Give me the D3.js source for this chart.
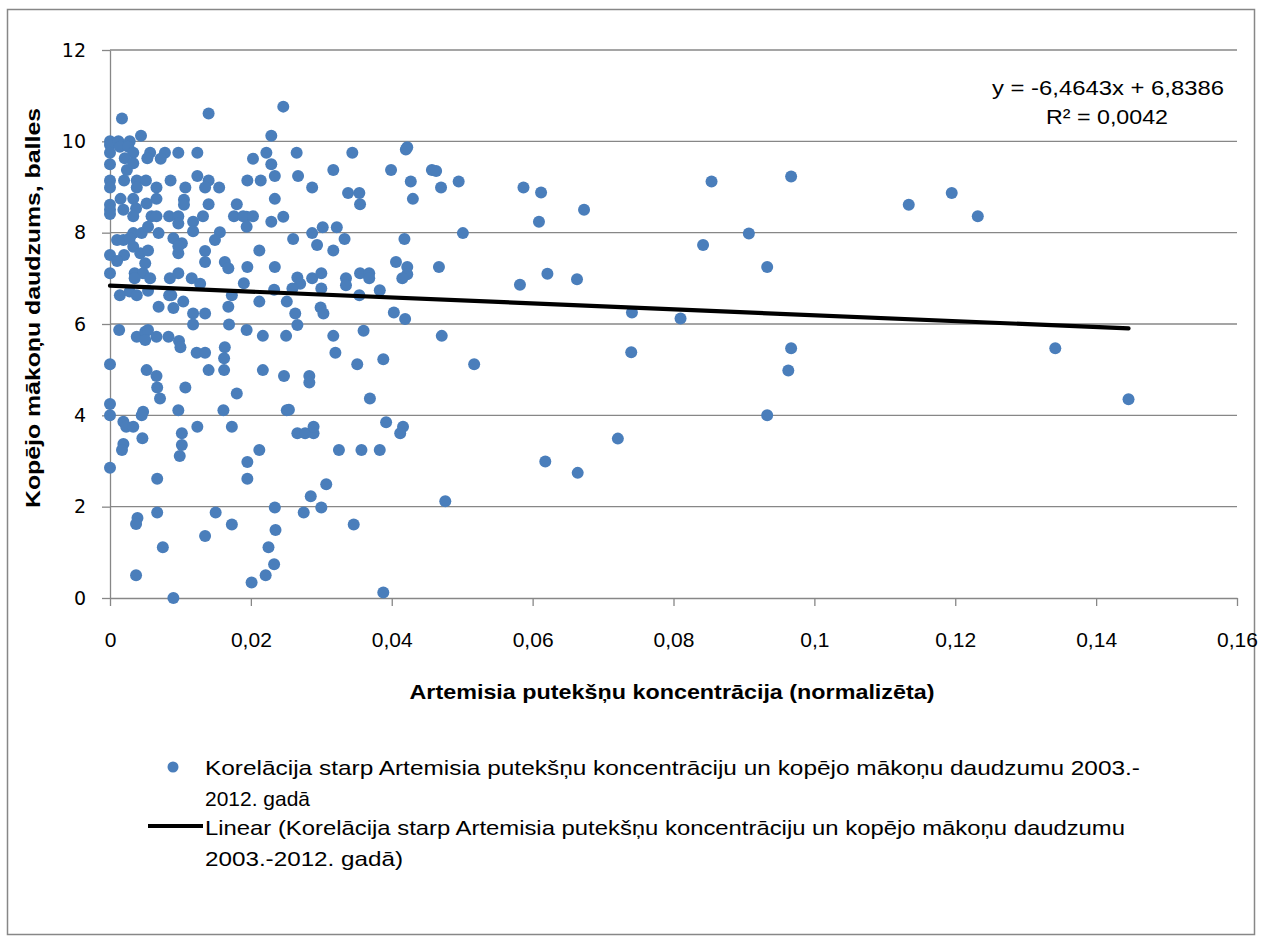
<!DOCTYPE html>
<html><head><meta charset="utf-8">
<script src="https://cdn.jsdelivr.net/npm/d3@7"></script>
<style>body{margin:0;background:#fff}svg{display:block}</style>
</head><body><svg id="c" width="1262" height="942"></svg>
<script>
// ---- data (x = normalised Artemisia pollen concentration, y = total cloud cover, balles) ----
const pollenA = [0,0,0,0,0,0,0,0,0,0,0,0,0,0,0];
const cloudA  = [10.0,9.92,9.75,9.5,9.14,8.99,8.61,8.5,8.41,7.51,7.11,5.12,4.25,4.0,2.85];

const pollenB1 = [0.0012,0.0014,0.0028,0.0026,0.0017,0.0044,0.0033,0.0057,0.0078,0.0097,
  0.0124,0.0021,0.0024,0.0033,0.0053,0.0072,0.002,0.0038,0.0051,0.0038,
  0.0066,0.0086,0.0124,0.0015,0.0033,0.0019,0.0037,0.0052,0.0066,0.0105,
  0.0105,0.0033,0.0059,0.0066,0.0084,0.0097,0.0097,0.0118,0.0033,0.0045,
  0.0054,0.0069,0.009,0.0102,0.0118,0.001,0.0019,0.0028,0.0033,0.002,
  0.0043,0.0054,0.0097,0.0097,0.005,0.001];
const cloudB1 = [10.0,9.88,10.0,9.88,10.5,10.12,9.75,9.75,9.75,9.75,
  9.75,9.63,9.37,9.52,9.63,9.62,9.14,9.14,9.14,8.99,
  8.99,9.14,9.24,8.74,8.74,8.5,8.53,8.64,8.74,8.72,
  8.61,8.36,8.36,8.36,8.36,8.36,8.2,8.24,7.99,7.99,
  8.13,7.99,7.88,7.77,8.03,7.84,7.84,7.88,7.69,7.51,
  7.55,7.61,7.55,7.7,7.33,7.38];

const pollenB2 = [0.0035,0.0047,0.0057,0.0035,0.0085,0.0097,0.0116,0.0128,0.0014,0.0028,
  0.0038,0.0054,0.0084,0.0087,0.0104,0.0069,0.009,0.0118,0.0013,0.0038,
  0.005,0.0054,0.005,0.0066,0.0083,0.0098,0.01,0.0118,0.0123,0.0052,
  0.0066,0.0067,0.0107,0.0071,0.0047,0.0045,0.0097,0.0019,0.0023,0.0033,
  0.0046,0.0102,0.0124,0.0102,0.0099,0.0019,0.0017,0.0067,0.009,0.0037,
  0.0075,0.0067,0.0039,0.0037];
const cloudB2 = [7.11,7.11,7.0,7.0,7.0,7.11,7.0,6.88,6.63,6.71,
  6.63,6.73,6.63,6.63,6.49,6.38,6.35,6.23,5.87,5.72,
  5.83,5.87,5.65,5.72,5.72,5.63,5.49,5.99,5.37,4.99,
  4.86,4.61,4.61,4.37,4.08,4.0,4.11,3.86,3.75,3.75,
  3.5,3.61,3.75,3.35,3.11,3.37,3.24,2.61,0.0,0.5,
  1.11,1.87,1.75,1.62];

const pollenC = [0.014,0.0246,0.0229,0.0222,0.0203,0.0229,0.0234,0.014,0.0135,0.0107,
  0.0155,0.0195,0.0214,0.014,0.018,0.0194,0.0234,0.0246,0.0132,0.0176,
  0.0189,0.0203,0.0229,0.0194,0.0156,0.0149,0.0135,0.0163,0.0195,0.0212,
  0.0234,0.0135,0.0168,0.019,0.0168,0.0173,0.0212,0.0233,0.0251,0.0135,
  0.0169,0.0194,0.0217,0.025,0.0135,0.0163,0.0162,0.0162,0.014,0.0217,
  0.0247,0.018,0.0161,0.0251,0.0173,0.0212,0.0195,0.0195,0.0234,0.0235,
  0.0225,0.0233,0.0221,0.0201,0.0135,0.0173,0.015];
const cloudC = [10.61,10.76,10.12,9.75,9.62,9.5,9.24,9.14,8.99,8.99,
  8.99,9.14,9.14,8.62,8.62,8.35,8.74,8.35,8.36,8.36,
  8.36,8.36,8.24,8.13,8.01,7.84,7.6,7.36,7.25,7.61,
  7.25,7.36,7.22,6.89,6.38,6.63,6.49,6.75,6.49,6.23,
  5.99,5.87,5.74,5.74,5.37,5.49,5.25,4.99,4.99,4.99,
  4.86,4.48,4.11,4.11,3.75,3.24,2.98,2.61,1.98,1.49,
  1.11,0.74,0.5,0.34,1.36,1.61,1.87];

const pollenD = [0.0265,0.0344,0.0422,0.042,0.0317,0.0267,0.0399,0.0457,0.0287,0.0427,
  0.0495,0.047,0.0338,0.0354,0.0355,0.043,0.026,0.0287,0.0302,0.0322,
  0.0294,0.0333,0.0317,0.0418,0.0501,0.0406,0.0422,0.0467,0.0422,0.0415,
  0.0266,0.0287,0.03,0.027,0.0259,0.03,0.0335,0.0335,0.0355,0.0368,
  0.0368,0.0383,0.0354,0.0299,0.0303,0.0263,0.0266,0.0403,0.0419,0.0317,
  0.036,0.0471,0.032,0.0351,0.0388,0.0517,0.0283,0.0283,0.0369,0.0254,
  0.0392,0.0416,0.0412,0.0266,0.0277,0.0289,0.0289,0.0325,0.0357,0.0383,
  0.0307,0.0285,0.0275,0.03,0.0346,0.0476,0.0388];
const cloudD = [9.75,9.75,9.87,9.82,9.37,9.24,9.37,9.37,8.99,9.12,
  9.12,8.99,8.87,8.87,8.62,8.74,7.86,7.99,8.12,8.12,
  7.73,7.86,7.61,7.86,7.99,7.36,7.25,7.25,7.09,7.0,
  7.02,7.0,7.11,6.88,6.78,6.78,7.0,6.85,7.11,7.11,
  7.0,6.74,6.63,6.36,6.23,6.23,5.98,6.25,6.11,5.74,
  5.85,5.74,5.37,5.12,5.23,5.12,4.86,4.72,4.37,4.12,
  3.85,3.75,3.61,3.61,3.61,3.61,3.75,3.24,3.24,3.24,
  2.49,2.23,1.87,1.98,1.61,2.12,0.12];

const pollenE = [0.0587,0.0612,0.0609,0.0673,0.0854,0.0907,0.0842,0.0933,0.0582,0.0621,
  0.0663,0.0741,0.081,0.074,0.0933,0.0721,0.0618,0.0664,0.0967,0.1134,
  0.1195,0.1232,0.0967,0.0963,0.1342,0.1446,0.0463];
const cloudE = [8.99,8.88,8.24,8.5,9.12,7.98,7.73,7.25,6.86,7.1,
  6.98,6.25,6.12,5.38,4.0,3.49,2.99,2.74,9.23,8.61,
  8.87,8.36,5.47,4.98,5.47,4.35,9.35];

const xTicks = [0,0.02,0.04,0.06,0.08,0.1,0.12,0.14,0.16];
const yTicks = [0,2,4,6,8,10,12];
const trendSlope = -6.4643, trendIntercept = 6.8386;
const eqText = "y = -6,4643x + 6,8386";
const r2Text = "R² = 0,0042";
const xTitle = "Artemisia putekšņu koncentrācija (normalizēta)";
const yTitle = "Kopējo mākoņu daudzums, balles";
const legendSeries = ["Korelācija starp Artemisia putekšņu koncentrāciju un kopējo mākoņu daudzumu 2003.-", "2012. gadā"];
const legendTrend = ["Linear (Korelācija starp Artemisia putekšņu koncentrāciju un kopējo mākoņu daudzumu", "2003.-2012. gadā)"];

// ---- build ----
const pollen = [].concat(pollenA, pollenB1, pollenB2, pollenC, pollenD, pollenE);
const cloud  = [].concat(cloudA, cloudB1, cloudB2, cloudC, cloudD, cloudE);
const points = pollen.map((p, i) => ({x: p, y: cloud[i]}));

const svg = d3.select("#c");
const blue = "#4A7EBB", grid = "#878787";
const x = d3.scaleLinear().domain([0, 0.16]).range([110, 1237]);
const y = d3.scaleLinear().domain([0, 12]).range([598, 50]);
const fmt = d => String(d).replace(".", ",");

svg.append("rect").attr("x", 7.5).attr("y", 9.5).attr("width", 1247).attr("height", 925)
  .attr("fill", "#fff").attr("stroke", grid).attr("stroke-width", 1.5);

// gridlines
svg.append("g").selectAll("line").data(yTicks.filter(d => d > 0)).join("line")
  .attr("x1", x(0)).attr("x2", x(0.16)).attr("y1", d => y(d)).attr("y2", d => y(d))
  .attr("stroke", grid).attr("stroke-width", 1.3);

// axes
const gx = svg.append("g").attr("transform", `translate(0,${y(0)})`)
  .call(d3.axisBottom(x).tickValues(xTicks).tickFormat(fmt).tickSize(8).tickSizeOuter(0));
const gy = svg.append("g").attr("transform", `translate(${x(0)},0)`)
  .call(d3.axisLeft(y).tickValues(yTicks).tickFormat(fmt).tickSize(8).tickSizeOuter(0).tickPadding(16));
[gx, gy].forEach(g => {
  g.select(".domain").attr("stroke", grid).attr("stroke-width", 1.3);
  g.selectAll(".tick line").attr("stroke", grid).attr("stroke-width", 1.3);
});
gx.selectAll("text").attr("y", 42).attr("dy", "0.35em")
  .attr("font-family", "Liberation Sans Narrow, Liberation Sans, sans-serif").attr("font-size", 21).attr("fill", "#000");
gy.selectAll("text").attr("font-family", "DejaVu Sans, sans-serif").attr("font-size", 19).attr("fill", "#000");

// points
svg.append("g").selectAll("circle").data(points).join("circle")
  .attr("cx", d => x(d.x)).attr("cy", d => y(d.y)).attr("r", 6).attr("fill", blue);

// trendline
const xr = d3.extent(pollen);
svg.append("line")
  .attr("x1", x(xr[0])).attr("y1", y(trendSlope * xr[0] + trendIntercept))
  .attr("x2", x(xr[1])).attr("y2", y(trendSlope * xr[1] + trendIntercept))
  .attr("stroke", "#000").attr("stroke-width", 4.2).attr("stroke-linecap", "round");

// equation
const tf = "Liberation Sans, sans-serif";
svg.append("text").attr("x", 1108).attr("y", 95).attr("text-anchor", "middle")
  .attr("font-family", tf).attr("font-size", 20).attr("fill", "#000")
  .attr("textLength", 232).attr("lengthAdjust", "spacingAndGlyphs").text(eqText);
svg.append("text").attr("x", 1107).attr("y", 124).attr("text-anchor", "middle")
  .attr("font-family", tf).attr("font-size", 20).attr("fill", "#000")
  .attr("textLength", 122).attr("lengthAdjust", "spacingAndGlyphs").text(r2Text);

// axis titles
svg.append("text").attr("x", 672).attr("y", 699).attr("text-anchor", "middle")
  .attr("font-family", tf).attr("font-weight", "bold").attr("font-size", 21).attr("fill", "#000")
  .attr("textLength", 525).attr("lengthAdjust", "spacingAndGlyphs").text(xTitle);
svg.append("text").attr("transform", "translate(40,308) rotate(-90)").attr("text-anchor", "middle")
  .attr("font-family", tf).attr("font-weight", "bold").attr("font-size", 21).attr("fill", "#000")
  .attr("textLength", 400).attr("lengthAdjust", "spacingAndGlyphs").text(yTitle);

// legend
svg.append("circle").attr("cx", 173).attr("cy", 767).attr("r", 5.5).attr("fill", blue);
svg.append("line").attr("x1", 148).attr("x2", 203).attr("y1", 826).attr("y2", 826)
  .attr("stroke", "#000").attr("stroke-width", 4.2);
const legLines = [
  {t: legendSeries[0], y: 775, w: 935},
  {t: legendSeries[1], y: 806, w: 105},
  {t: legendTrend[0], y: 835, w: 920},
  {t: legendTrend[1], y: 866, w: 198}
];
svg.append("g").selectAll("text").data(legLines).join("text")
  .attr("x", 205).attr("y", d => d.y).attr("font-family", tf).attr("font-size", 21).attr("fill", "#000")
  .attr("textLength", d => d.w).attr("lengthAdjust", "spacingAndGlyphs").text(d => d.t);
</script></body></html>
